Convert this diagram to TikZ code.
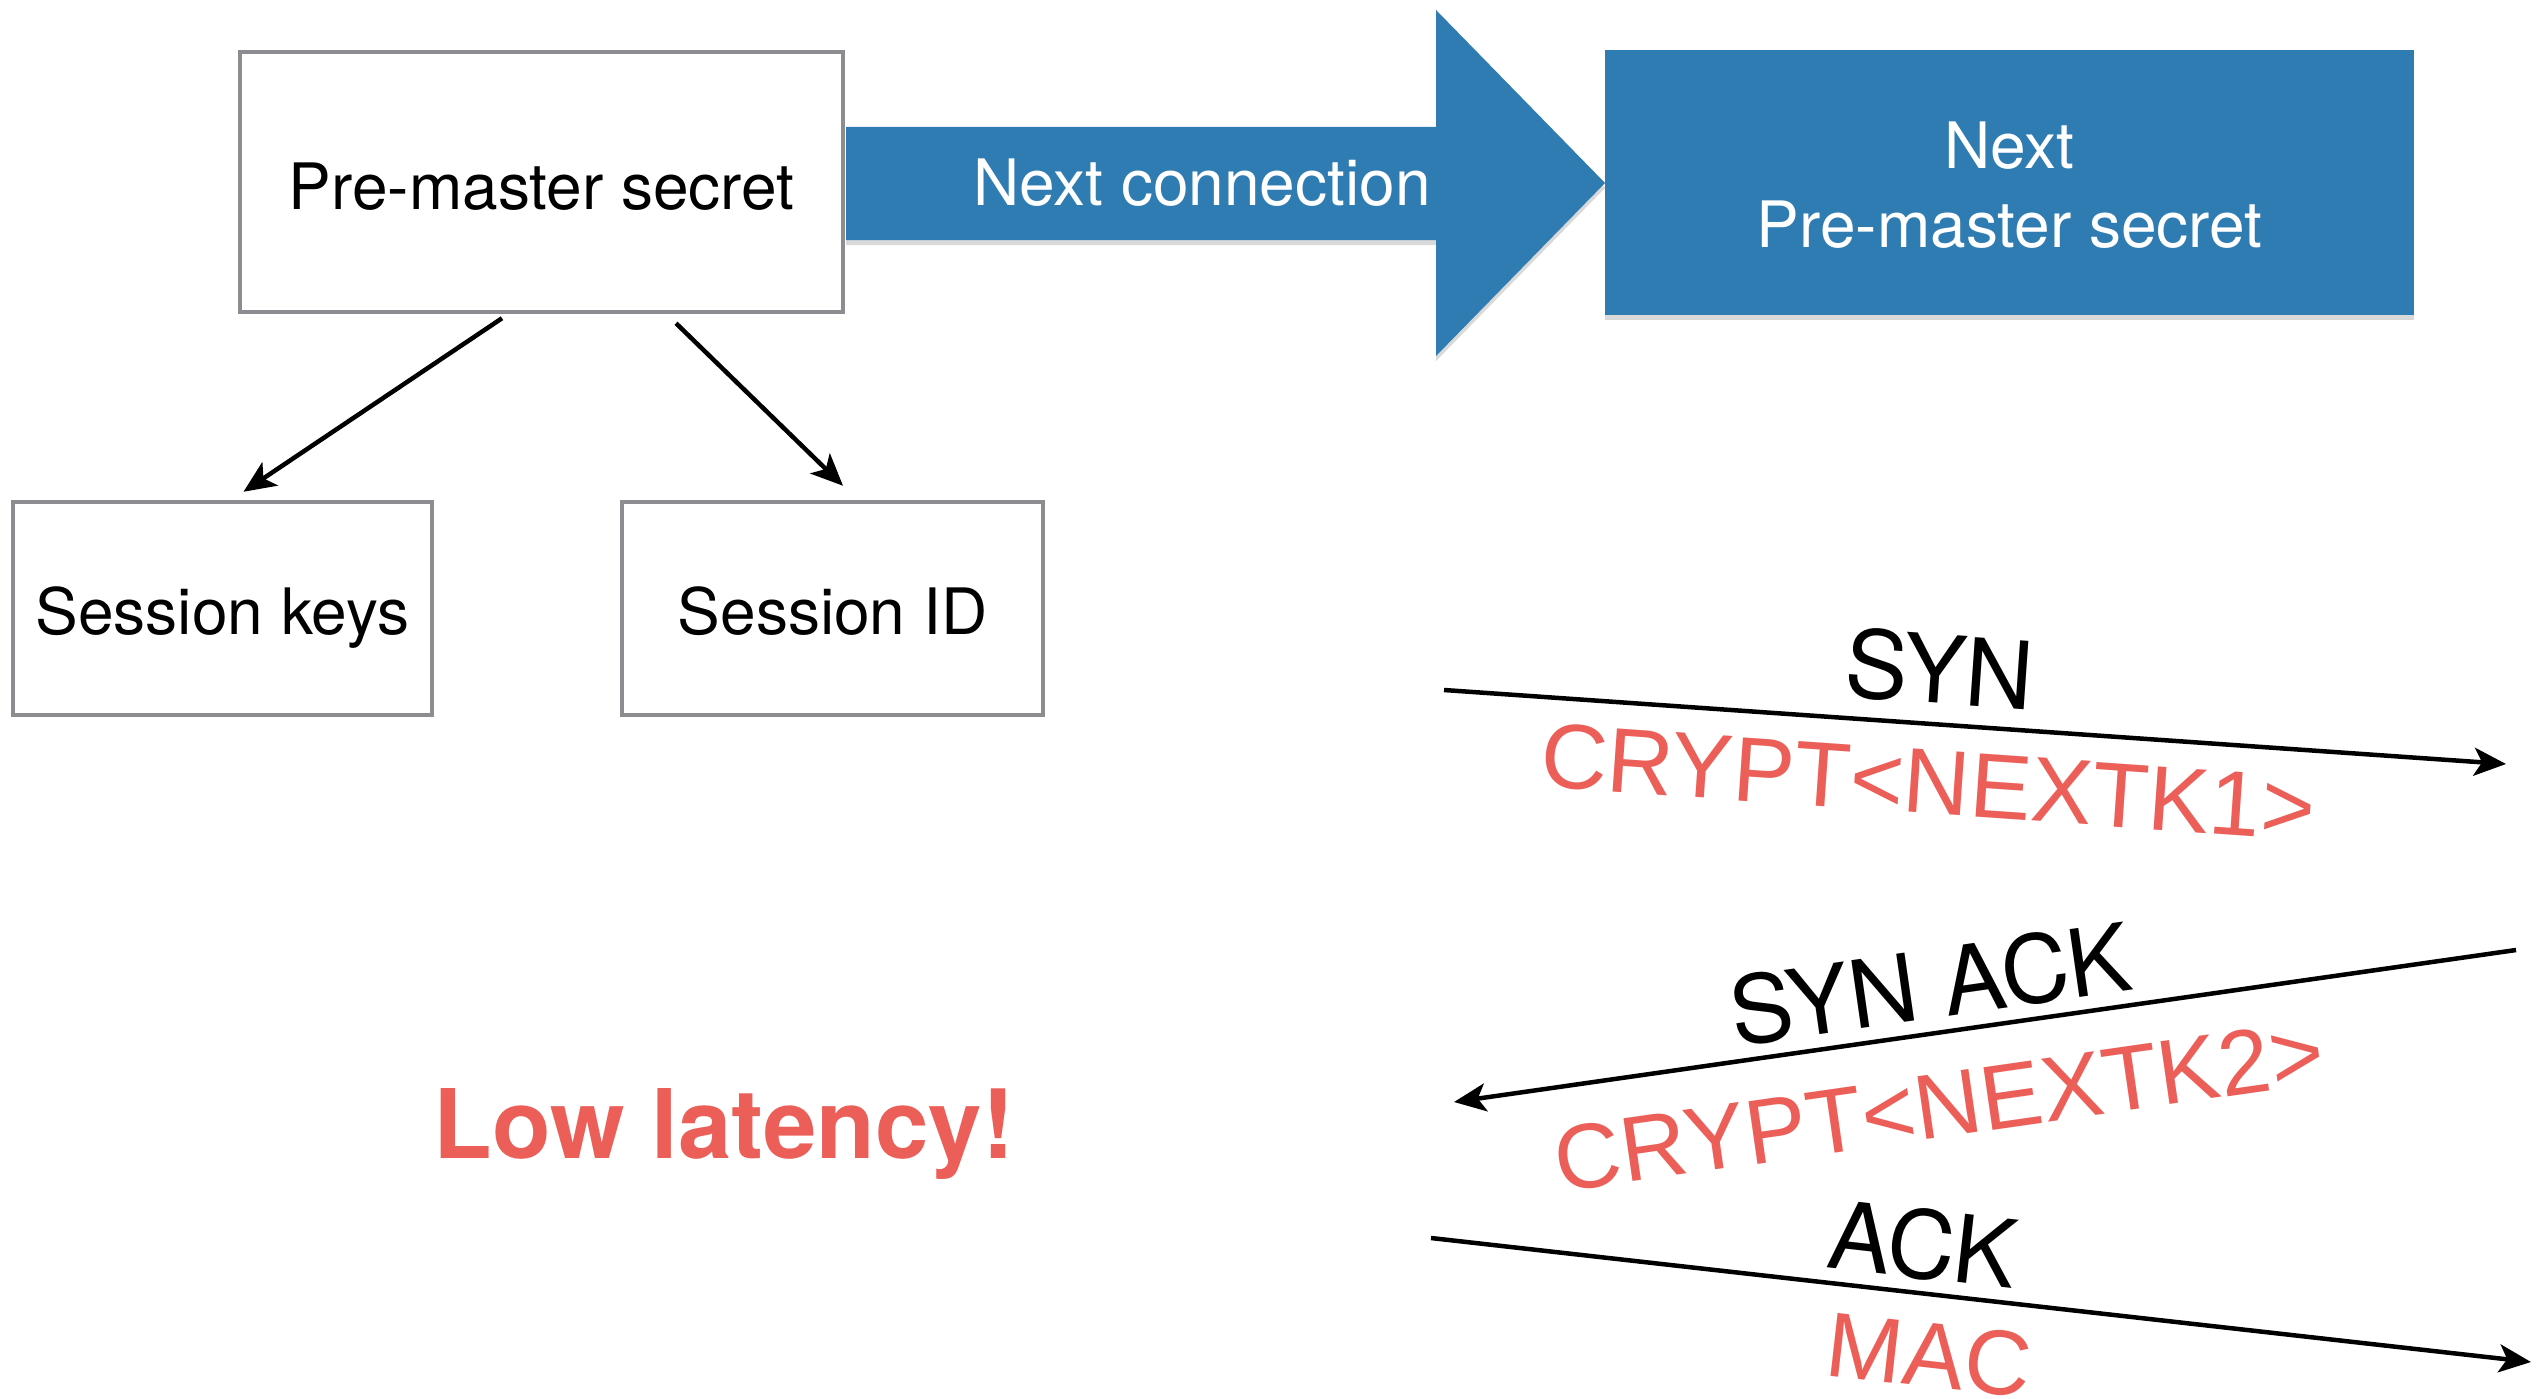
\documentclass[tikz,border=0pt]{standalone}
\usepackage{fontspec}
\setmainfont{TeX Gyre Heros}
\newfontfamily\payloadfont{Liberation Sans}
\usetikzlibrary{arrows.meta,shadows}
\definecolor{boxgray}{RGB}{140,140,145}
\definecolor{keyblue}{RGB}{47,124,178}
\definecolor{alertred}{RGB}{236,94,88}

\begin{document}
\begin{tikzpicture}[x=1pt,y=-1pt,
  plainbox/.style={draw=boxgray, line width=4.5pt, fill=white, inner sep=0pt},
  boxtext/.style={font=\fontsize{64}{78}\selectfont, inner sep=0pt, anchor=base, align=center},
  bshadow/.style={drop shadow={shadow xshift=0pt, shadow yshift=-5pt, opacity=0.3}},
  conn/.style={line width=4.5pt, -{Stealth[length=32pt,width=28pt,inset=8pt]}},
  msg/.style={font=\fontsize{94}{104}\selectfont, inner sep=0pt},
  payload/.style={font=\payloadfont\fontsize{92}{104}\selectfont, inner sep=0pt, text=alertred}
]
\useasboundingbox (0,0) rectangle (2547,1399);

% key derivation boxes
\node[plainbox, minimum width=603pt, minimum height=260pt] (pm) at (541.5,182) {};
\node[plainbox, minimum width=419pt, minimum height=213pt] (sk) at (222.5,608.5) {};
\node[plainbox, minimum width=421pt, minimum height=213pt] (sid) at (832.5,608.5) {};
\node[boxtext] (pmt) at (541.5,209) {Pre-master secret};
\node[boxtext] (skt) at (222.5,634) {Session keys};
\node[boxtext] (sidt) at (832.5,634) {Session ID};

\draw[conn] ([xshift=-39.5pt, yshift=-4pt]pm.south) -- ([xshift=21pt, yshift=8pt]sk.north);
\draw[conn] ([xshift=134.5pt, yshift=-9pt]pm.south) -- ([xshift=10.5pt, yshift=14pt]sid.north);

% big blue arrow towards the next secret
\fill[keyblue, bshadow] (846,127) -- (1436,127) -- (1436,10) -- (1605,183)
  -- (1436,356) -- (1436,240) -- (846,240) -- cycle;
\node[boxtext, text=white] (nc) at (1202,206) {Next connection};

\node[fill=keyblue, bshadow, minimum width=809pt, minimum height=265pt, inner sep=0pt] (nb) at (2009.5,182.5) {};
\node[boxtext, text=white] (nbt) at (2009.5,247) {Next\\Pre-master secret};

% handshake messages
\coordinate (s1a) at (1444,690);
\coordinate (s1b) at (2506,764);
\coordinate (s2a) at (2516,950);
\coordinate (s2b) at (1454,1102);
\coordinate (s3a) at (1431,1238);
\coordinate (s3b) at (2531,1362);

\draw[conn] (s1a) -- (s1b);
\draw[conn] (s2a) -- (s2b);
\draw[conn] (s3a) -- (s3b);

\node[msg, rotate=-3.99] (syn) at (1940,669) {SYN};
\node[payload, rotate=-3.99] (k1) at (1928,782) {CRYPT<NEXTK1>};
\node[msg, rotate=8.16] (synack) at (1930,984) {SYN ACK};
\node[payload, rotate=8.16] (k2) at (1939,1106) {CRYPT<NEXTK2>};
\node[msg, rotate=-6.44] (ack) at (1923,1244) {ACK};
\node[payload, rotate=-6.44] (mac) at (1929,1355) {MAC};

% headline
\node[font=\bfseries\fontsize{96}{110}\selectfont, text=alertred, inner sep=0pt, anchor=base] (lat) at (724,1158) {Low latency!};
\end{tikzpicture}
\end{document}
